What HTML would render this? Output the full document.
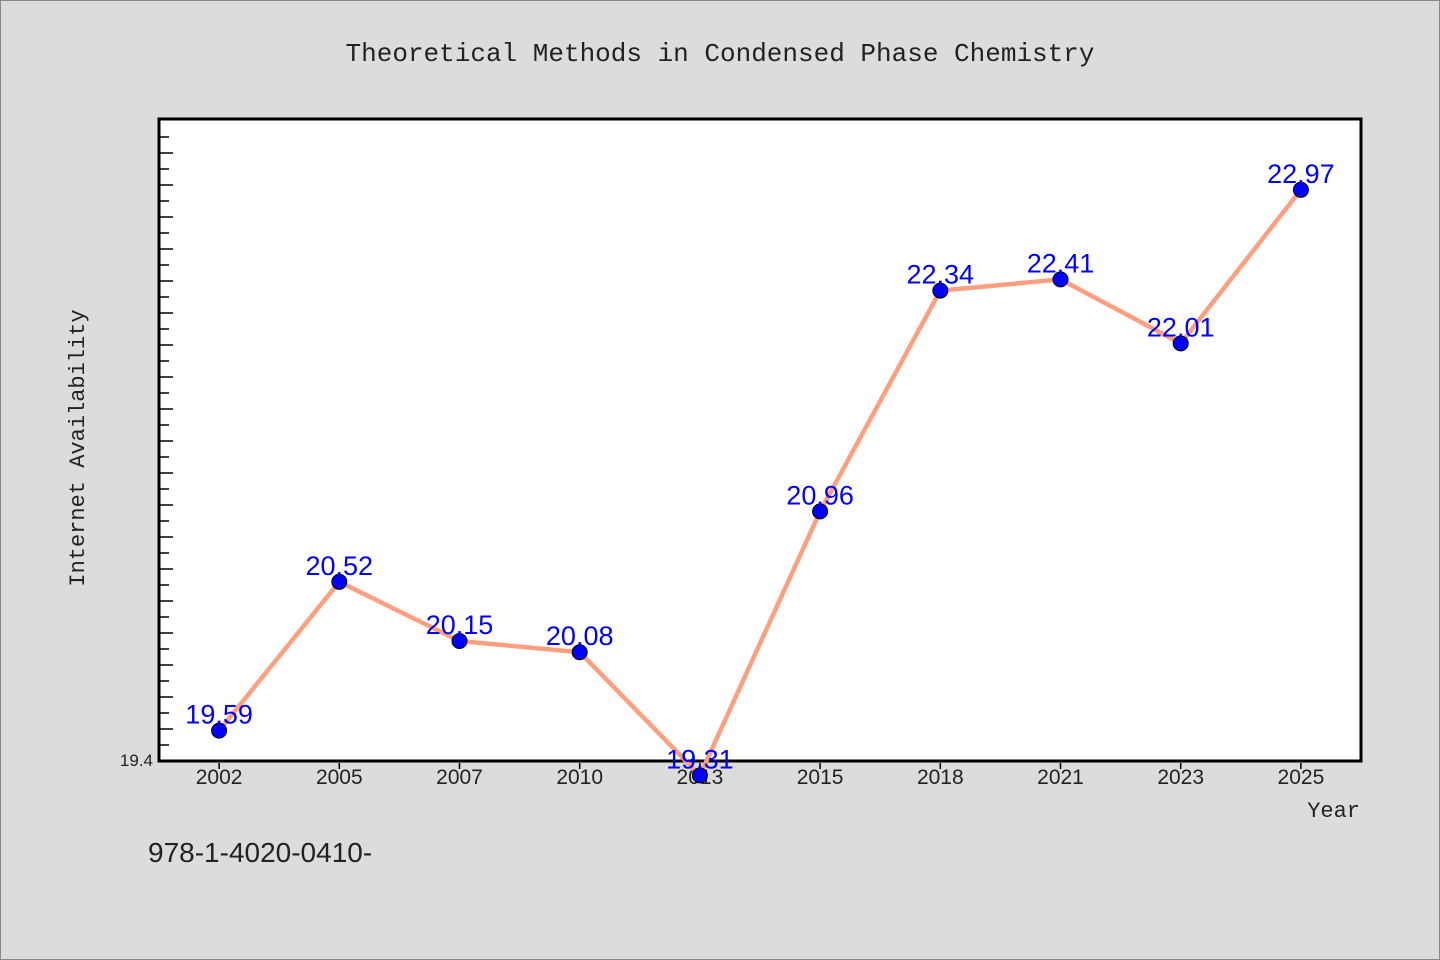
<!DOCTYPE html>
<html><head><meta charset="utf-8"><style>
body{margin:0;background:#dcdcdc;}
svg{display:block;font-family:"Liberation Sans","WenQuanYi Zen Hei",sans-serif;}
</style></head><body>
<svg id="chart" width="1440" height="960">
<rect x="0.5" y="0.5" width="1439" height="959" fill="#dcdcdc" stroke="#888"/>
<text x="720" y="61" text-anchor="middle" font-family="Liberation Mono, monospace" font-size="26" fill="#222">Theoretical Methods in Condensed Phase Chemistry</text>
<rect x="159" y="119" width="1202" height="642" fill="#fff" stroke="#000" stroke-width="3"/>
<g id="yticks"></g><g id="xticks"></g>
<g id="series"></g>
<text x="153" y="766" text-anchor="end" font-size="17" fill="#222">19.4</text>
<text transform="translate(84,448) rotate(-90)" text-anchor="middle" font-family="Liberation Mono, monospace" font-size="22" fill="#222">Internet Availability</text>
<text x="1360" y="817" text-anchor="end" font-family="Liberation Mono, monospace" font-size="22" fill="#222">Year</text>
<text x="148" y="862" font-size="28" fill="#222">978-1-4020-0410-</text>
</svg>
<script>
const categories=["2002","2005","2007","2010","2013","2015","2018","2021","2023","2025"];
const values=[19.59,20.52,20.15,20.08,19.31,20.96,22.34,22.41,22.01,22.97];
const yMin=19.4, yMax=23.4125;
const L=159,R=1361,T=119,B=761;
const NS="http://www.w3.org/2000/svg";
function y(v){return B-(v-yMin)/(yMax-yMin)*(B-T);}
function x(i){const bw=(R-L)/categories.length;return L+bw*(i+0.5);}
function mk(t,a,p){const e=document.createElementNS(NS,t);for(const k in a)e.setAttribute(k,a[k]);p.appendChild(e);return e;}
const yt=document.getElementById('yticks');
for(let k=1;k<=39;k++){const yy=B-16*k;const len=k%2?9:13;
const l=mk('line',{x1:L+1,x2:L+1+len,y1:yy,y2:yy,stroke:'#000','stroke-width':1.5},yt);

}
const xt=document.getElementById('xticks');
categories.forEach((c,i)=>{
const l=mk('line',{x1:x(i),x2:x(i),y1:B+2,y2:B+8,stroke:'#000','stroke-width':1.5},xt);


const t=mk('text',{x:x(i),y:784,'text-anchor':'middle','font-size':21,fill:'#222'},xt);
t.textContent=c;

});
const s=document.getElementById('series');
const pl=mk('polyline',{points:values.map((v,i)=>x(i)+','+y(v)).join(' '),fill:'none',stroke:'#ff9f7f','stroke-width':4.5,'stroke-linejoin':'round'},s);


values.forEach((v,i)=>{
const c=mk('circle',{cx:x(i),cy:y(v),r:7.5,fill:'#0000ff',stroke:'#000','stroke-width':1},s);


const t=mk('text',{x:x(i),y:y(v)-7,'text-anchor':'middle','font-size':27,fill:'#0000ff'},s);
t.textContent=v.toFixed(2);

});
</script>
</body></html>
